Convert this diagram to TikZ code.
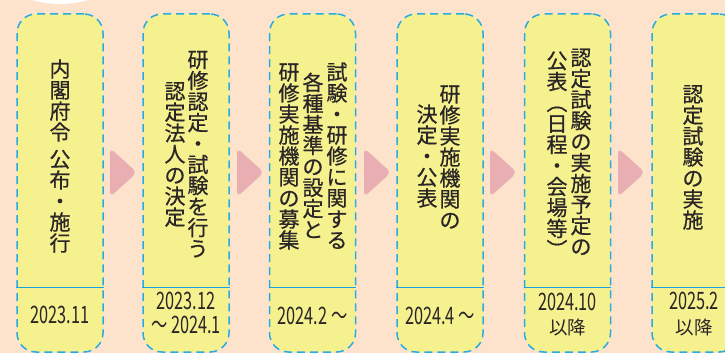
\documentclass[tikz,border=0pt]{standalone}
\usepackage{fontspec}
\setmainfont{Noto Sans CJK JP}
\newfontfamily\jp[FakeBold=0.6]{Noto Sans CJK JP}
\newfontfamily\dfont[FakeStretch=0.68]{Noto Sans CJK JP}
\newfontfamily\jpd{Noto Sans CJK JP}
\definecolor{bgc}{HTML}{FDE3CC}
\definecolor{boxc}{HTML}{F6F18F}
\definecolor{bordc}{HTML}{29ABE2}
\definecolor{divc}{HTML}{1BA1E2}
\definecolor{arrc}{HTML}{E8AEB2}
\definecolor{txtc}{HTML}{2A2526}
\newlength\vp
\setlength\vp{21pt}
\def\vstrut{\vrule width0pt height 0.88\vp depth 0.12\vp}
\def\vcol#1{\vbox{\offinterlineskip\vtx#1\relax}}
\def\vtx#1{\ifx\relax#1\else\vone{#1}\expandafter\vtx\fi}
\def\vone#1{\ifx|#1\kern6pt\else\hbox to\vp{\hss\vstrut#1\hss}\fi}
\tikzset{
  stepbox/.style={draw=bordc, fill=boxc, line width=1.5pt, dash pattern=on 8pt off 5pt,
    rounded corners=19pt, minimum width=86pt, minimum height=338pt, inner sep=0pt},
  divider/.style={draw=divc, line width=1.6pt},
  arrowshape/.style={fill=arrc, rounded corners=5pt},
  vtext/.style={text=txtc, inner sep=0pt, font=\jp\fontsize{21pt}{21pt}\selectfont},
  datetext/.style={text=txtc, inner sep=0pt, text height=15pt, text depth=0pt,
    font=\dfont\fontsize{24pt}{22pt}\selectfont},
  aftertext/.style={text=txtc, inner sep=0pt, text height=15pt, text depth=0pt,
    font=\jpd\fontsize{18.5pt}{22pt}\selectfont}
}
\begin{document}
\begin{tikzpicture}[x=1pt,y=-1pt]
\useasboundingbox (0,0) rectangle (725,353);
\clip (0,0) rectangle (725,353);
\fill[bgc] (0,0) rectangle (725,353);
\fill[white] (60,-92.5) circle (96.5);
% arrows
\fill[arrowshape] (110,148) -- (137,172.5) -- (110,197) -- cycle;
\fill[arrowshape] (237,148) -- (264,172.5) -- (237,197) -- cycle;
\fill[arrowshape] (364,148) -- (391,172.5) -- (364,197) -- cycle;
\fill[arrowshape] (490,148) -- (517,172.5) -- (490,197) -- cycle;
\fill[arrowshape] (618,148) -- (645,172.5) -- (618,197) -- cycle;
% boxes
\node[stepbox] (b1) at (60,183) {};
\node[stepbox] (b2) at (186,183) {};
\node[stepbox] (b3) at (312.5,183) {};
\node[stepbox] (b4) at (440,183) {};
\node[stepbox] (b5) at (567.5,183) {};
\node[stepbox] (b6) at (695,183) {};
\foreach \b in {b1,b2,b3,b4,b5,b6}
  \draw[divider] (\b.west |- 0,287.3) -- (\b.east |- 0,287.3);
% vertical texts
\node[vtext] (t1) at (60,156) {\vcol{内閣府令|公布・施行}};
\node[vtext] (t2a) at (198,154) {\vcol{研修認定・試験を行う}};
\node[vtext] (t2b) at (175,154) {\vcol{認定法人の決定}};
\node[vtext] (t3a) at (337,156) {\vcol{試験・研修に関する}};
\node[vtext] (t3b) at (313,156) {\vcol{各種基準の設定と}};
\node[vtext] (t3c) at (289,156) {\vcol{研修実施機関の募集}};
\node[vtext] (t4a) at (450,157) {\vcol{研修実施機関の}};
\node[vtext] (t4b) at (427,156) {\vcol{決定・公表}};
\node[vtext] (t5a) at (581,152) {\vcol{認定試験の実施予定の}};
\node[vtext] (t5b) at (557,155) {\vcol{公表︵日程・会場等︶}};
\node[vtext] (t6) at (693,157) {\vcol{認定試験の実施}};
% dates
\node[datetext] (d1) at (60,316) {2023.11};
\node[datetext] (d2a) at (186,302) {2023.12};
\node[datetext] (d2b) at (186,326) {〜 2024.1};
\node[datetext] (d3) at (312.5,317) {2024.2 〜};
\node[datetext] (d4) at (440,317) {2024.4 〜};
\node[datetext] (d5a) at (567.5,302.5) {2024.10};
\node[aftertext] (d5b) at (567.5,326.5) {以降};
\node[datetext] (d6a) at (694,301.5) {2025.2};
\node[aftertext] (d6b) at (694,326.5) {以降};
\end{tikzpicture}
\end{document}
